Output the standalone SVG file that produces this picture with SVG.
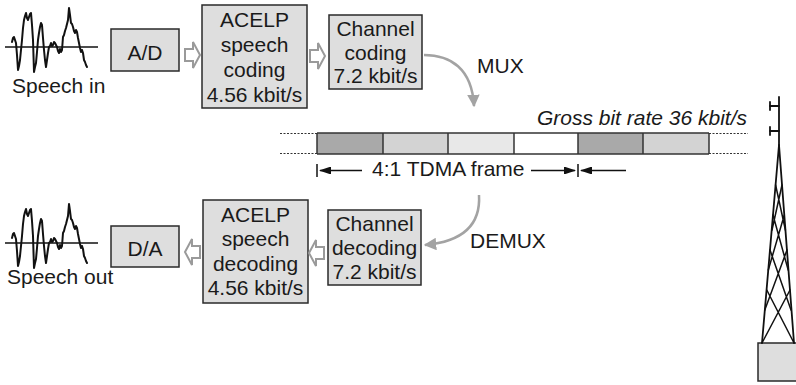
<svg xmlns="http://www.w3.org/2000/svg" width="796" height="385" viewBox="0 0 796 385">
  <style>
    text { font-family: "Liberation Sans", Arial, sans-serif; font-size: 21px; fill: #1a1a1a; }
    .mid { text-anchor: middle; }
    .box { fill: #dedede; stroke: #2a2a2a; stroke-width: 1.5; }
    .wave { fill: none; stroke: #111; stroke-width: 2; stroke-linejoin: round; stroke-linecap: round; }
    .axis { stroke: #111; stroke-width: 1.5; }
    .hollow { fill: #fff; stroke: #9a9a9a; stroke-width: 2; stroke-linejoin: miter; }
    .flow { fill: none; stroke: #a3a3a3; stroke-width: 2.5; }
    .dim { stroke: #111; stroke-width: 1.5; fill: none; }
    .dots { stroke: #333; stroke-width: 1.2; stroke-dasharray: 2 1.5; }
    .slot { stroke: #333; stroke-width: 1.5; }
    .tower { stroke: #111; stroke-width: 1.8; fill: none; stroke-linecap: round; }
    .lattice { stroke: #111; stroke-width: 1.5; fill: none; stroke-linecap: round; }
  </style>
  <defs>
    <marker id="grayHead" viewBox="0 0 10 10" refX="9" refY="5" markerWidth="5" markerHeight="5" markerUnits="strokeWidth" orient="auto">
      <path d="M0,0 L10,5 L0,10 Z" fill="#a3a3a3"/>
    </marker>
    <marker id="blackHead" viewBox="0 0 12 8" refX="11" refY="4" markerWidth="8" markerHeight="5.33" markerUnits="strokeWidth" orient="auto">
      <path d="M0,0 L12,4 L0,8 Z" fill="#111"/>
    </marker>
    <path id="hollowArrow" d="M0,-6 H8 V-13 L15,0 L8,13 V6 H0 Z"/>
    <polyline id="waveform" points="12,42 13,38 14,37 15,40 16,43 17,55 18,70 19,66 20,60 21,50 22,40 23,28 24,20 25,16 26,13 27,18 28,20 29,17 30,14 31,13 32,25 33,40 34,72 35,67 36,63 37,52 38,40 39,33 40,27 41,23 42,25 43,38 44,50 45,60 46,67 47,60 48,53 49,47 50,46 51,43 52,46 53,45 54,42 55,43 56,45 57,47 58,51 59,53 60,49 61,52 62,50 63,37 64,35 65,31 66,28 67,24 68,20 69,8 70,15 71,23 72,24 73,27 74,31 75,33 76,30 77,32 78,38 79,43 80,48 81,52 82,50 83,53 84,60 85,62 86,65 87,67"/>
  </defs>

  <!-- transmit chain -->
  <g id="speech-in">
    <line class="axis" x1="5" y1="47" x2="98" y2="47"/>
    <use href="#waveform" class="wave"/>
    <text x="12" y="93">Speech in</text>
  </g>
  <g id="ad">
    <rect class="box" x="111" y="29" width="68" height="42"/>
    <text class="mid" x="145" y="60">A/D</text>
  </g>
  <g id="acelp-coding">
    <rect class="box" x="202" y="5" width="105" height="103"/>
    <text class="mid" x="254.5" y="27">ACELP</text>
    <text class="mid" x="254.5" y="52">speech</text>
    <text class="mid" x="254.5" y="77">coding</text>
    <text class="mid" x="254.5" y="102">4.56 kbit/s</text>
  </g>
  <g id="channel-coding">
    <rect class="box" x="329" y="15" width="93" height="74"/>
    <text class="mid" x="375.5" y="36">Channel</text>
    <text class="mid" x="375.5" y="60">coding</text>
    <text class="mid" x="375.5" y="83">7.2 kbit/s</text>
  </g>

  <!-- receive chain -->
  <g id="speech-out">
    <line class="axis" x1="5" y1="243" x2="98" y2="243"/>
    <use href="#waveform" class="wave" transform="translate(0,196)"/>
    <text x="7" y="284">Speech out</text>
  </g>
  <g id="da">
    <rect class="box" x="111" y="226" width="68" height="41"/>
    <text class="mid" x="145" y="256">D/A</text>
  </g>
  <g id="acelp-decoding">
    <rect class="box" x="203" y="200" width="105" height="103"/>
    <text class="mid" x="255.5" y="222">ACELP</text>
    <text class="mid" x="255.5" y="246">speech</text>
    <text class="mid" x="255.5" y="271">decoding</text>
    <text class="mid" x="255.5" y="295">4.56 kbit/s</text>
  </g>
  <g id="channel-decoding">
    <rect class="box" x="328" y="210" width="93" height="75"/>
    <text class="mid" x="374.5" y="231">Channel</text>
    <text class="mid" x="374.5" y="255">decoding</text>
    <text class="mid" x="374.5" y="279">7.2 kbit/s</text>
  </g>

  <!-- TDMA frame on the air interface -->
  <g id="tdma-frame">
    <text x="747" y="125" style="text-anchor:end;font-style:italic">Gross bit rate 36 kbit/s</text>
    <line class="dots" x1="280" y1="133.5" x2="317" y2="133.5"/>
    <line class="dots" x1="280" y1="153.5" x2="317" y2="153.5"/>
    <line class="dots" x1="709" y1="133.5" x2="748" y2="133.5"/>
    <line class="dots" x1="709" y1="153.5" x2="748" y2="153.5"/>
    <rect x="317" y="133" width="66" height="21" fill="#a9a9a9"/>
    <rect x="383" y="133" width="65" height="21" fill="#d3d3d3"/>
    <rect x="448" y="133" width="66" height="21" fill="#e8e8e8"/>
    <rect x="514" y="133" width="64" height="21" fill="#ffffff"/>
    <rect x="578" y="133" width="65" height="21" fill="#a9a9a9"/>
    <rect x="643" y="133" width="66" height="21" fill="#d3d3d3"/>
    <line class="slot" x1="317" y1="133" x2="709" y2="133"/>
    <line class="slot" x1="317" y1="154" x2="709" y2="154"/>
    <line class="slot" x1="317" y1="133" x2="317" y2="154"/>
    <line class="slot" x1="383" y1="133" x2="383" y2="154"/>
    <line class="slot" x1="448" y1="133" x2="448" y2="154"/>
    <line class="slot" x1="514" y1="133" x2="514" y2="154"/>
    <line class="slot" x1="578" y1="133" x2="578" y2="154"/>
    <line class="slot" x1="643" y1="133" x2="643" y2="154"/>
    <line class="slot" x1="709" y1="133" x2="709" y2="154"/>
    <line class="dim" x1="317" y1="164" x2="317" y2="177"/>
    <line class="dim" x1="578" y1="164" x2="578" y2="177"/>
    <line class="dim" x1="362" y1="170.5" x2="320" y2="170.5" marker-end="url(#blackHead)"/>
    <line class="dim" x1="531" y1="170.5" x2="575" y2="170.5" marker-end="url(#blackHead)"/>
    <line class="dim" x1="626" y1="170.5" x2="581" y2="170.5" marker-end="url(#blackHead)"/>
    <text x="372" y="176">4:1 TDMA frame</text>
  </g>

  <!-- base station antenna mast -->
  <g id="tower">
    <rect class="box" x="758" y="343" width="42" height="38"/>
    <line class="tower" x1="779" y1="97" x2="779" y2="147"/>
    <line class="tower" x1="770" y1="106" x2="779" y2="106"/>
    <line class="tower" x1="770" y1="102" x2="770" y2="110"/>
    <line class="tower" x1="770" y1="131" x2="779" y2="131"/>
    <line class="tower" x1="770" y1="127" x2="770" y2="135"/>
    <path class="tower" d="M779,145 L762,343 M779,145 L794,343"/>
    <path class="lattice" d="M775.6,185 L785.4,230 M782.0,185 L772.0,230 M773.0,215 L788.2,270 M784.3,215 L768.3,270 M770.0,250 L791.0,310 M787.0,250 L764.8,310 M766.8,290 L794,343 M790.0,290 L762,343"/>
  </g>

  <!-- signal flow connectors -->
  <g id="connectors">
    <use href="#hollowArrow" class="hollow" transform="translate(185,55)"/>
    <use href="#hollowArrow" class="hollow" transform="translate(310,56)"/>
    <use href="#hollowArrow" class="hollow" transform="translate(200,252) scale(-1,1)"/>
    <use href="#hollowArrow" class="hollow" transform="translate(324,253) scale(-1,1)"/>
    <path class="flow" d="M424,55 C450,55 472,68 474,106" marker-end="url(#grayHead)"/>
    <text x="477" y="73">MUX</text>
    <path class="flow" d="M479,195 C481,228 458,242 425,245" marker-end="url(#grayHead)"/>
    <text x="470" y="248">DEMUX</text>
  </g>
</svg>
